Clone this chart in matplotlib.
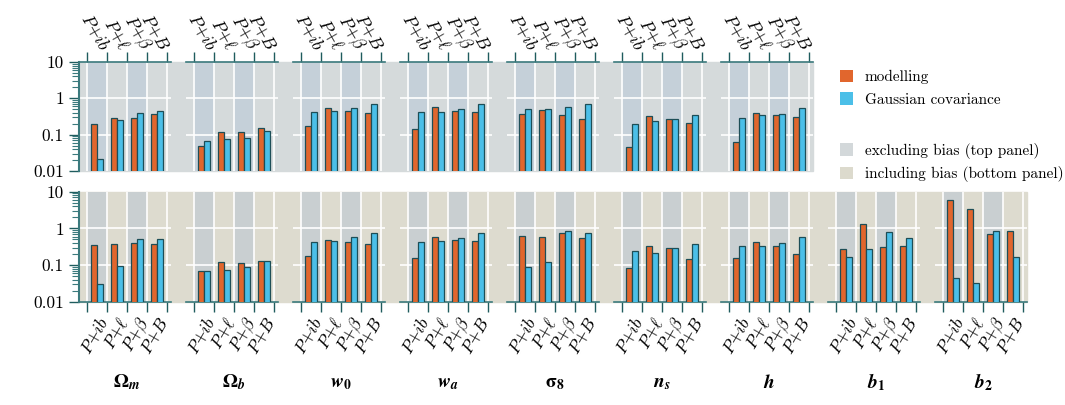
import matplotlib
matplotlib.use("Agg")
import matplotlib.pyplot as plt
from matplotlib.patches import Rectangle, Patch
import numpy as np

plt.rcParams['mathtext.fontset'] = 'cm'

# data
params = [r'$\mathbf{\Omega}_{\mathbfit{m}}$', r'$\mathbf{\Omega}_{\mathbfit{b}}$',
          r'$\mathbfit{w}_{\mathbf{0}}$', r'$\mathbfit{w}_{\mathbfit{a}}$',
          r'$\mathbf{\sigma}_{\mathbf{8}}$', r'$\mathbfit{n}_{\mathbfit{s}}$',
          r'$\mathbfit{h}$', r'$\mathbfit{b}_{\mathbf{1}}$', r'$\mathbfit{b}_{\mathbf{2}}$']
cats = [r'$P{+}ib$', r'$P{+}\ell$', r'$P{+}\beta$', r'$P{+}B$']

top_modelling = [[0.19, 0.29, 0.29, 0.37],
                 [0.049, 0.114, 0.114, 0.151],
                 [0.173, 0.54, 0.44, 0.39],
                 [0.14, 0.59, 0.46, 0.42],
                 [0.37, 0.47, 0.355, 0.264],
                 [0.046, 0.333, 0.264, 0.21],
                 [0.062, 0.394, 0.355, 0.306]]
top_gaussian = [[0.021, 0.256, 0.393, 0.454],
                [0.066, 0.075, 0.081, 0.125],
                [0.421, 0.439, 0.542, 0.698],
                [0.412, 0.421, 0.508, 0.698],
                [0.52, 0.508, 0.565, 0.698],
                [0.192, 0.243, 0.264, 0.34],
                [0.294, 0.34, 0.378, 0.553]]
bottom_modelling = [[0.359, 0.374, 0.406, 0.374],
                    [0.0686, 0.123, 0.111, 0.131],
                    [0.176, 0.481, 0.415, 0.374],
                    [0.158, 0.568, 0.471, 0.442],
                    [0.618, 0.568, 0.746, 0.556],
                    [0.083, 0.323, 0.285, 0.149],
                    [0.158, 0.415, 0.337, 0.2],
                    [0.279, 1.285, 0.31, 0.33],
                    [5.8, 3.3, 0.70, 0.846]]
bottom_gaussian = [[0.0297, 0.094, 0.501, 0.523],
                   [0.0658, 0.0716, 0.090, 0.128],
                   [0.433, 0.442, 0.568, 0.762],
                   [0.424, 0.442, 0.533, 0.762],
                   [0.088, 0.118, 0.864, 0.762],
                   [0.236, 0.217, 0.285, 0.366],
                   [0.323, 0.330, 0.398, 0.581],
                   [0.165, 0.273, 0.778, 0.545],
                   [0.0442, 0.0316, 0.846, 0.169]]

c_mod = '#e1662d'
c_gau = '#4bbfe8'
c_edge = '#1d4e57'
c_spine = '#3b7a7d'
c_tick = '#1f5c5e'
top_bg, top_stripe = '#d5dadb', '#c5d0d9'
bot_bg, bot_stripe = '#dddbcf', '#c9cfd1'

W, H = 1065, 405
fig = plt.figure(figsize=(W / 100, H / 100), dpi=100)

def px(x0, y0, w, h):
    return [x0 / W, 1 - (y0 + h) / H, w / W, h / H]

# row backgrounds behind the panels
fig.patches.append(Rectangle((79 / W, 1 - 171 / H), (813 - 79) / W, 109 / H,
                             transform=fig.transFigure, color=top_bg, zorder=-10))
fig.patches.append(Rectangle((79 / W, 1 - 301.7 / H), (1027 - 79) / W, 110 / H,
                             transform=fig.transFigure, color=bot_bg, zorder=-10))

def panel(rect, modelling, gaussian, top, first, bg, stripe):
    ax = fig.add_axes(rect)
    ax.set_facecolor('none')
    ax.set_yscale('log')
    ax.set_ylim(0.01, 10)
    ax.set_xlim(-0.4, 4.2)
    for c in [0, 2]:
        ax.axvspan(c, c + 1, color=stripe, zorder=0, lw=0)
    for c in range(5):
        ax.axvline(c, color='white', lw=1.2, zorder=1)
    for v in [1, 0.1]:
        ax.axhline(v, color='white', lw=1.2, zorder=1)
    x = np.arange(4)
    ax.bar(x + 0.33, modelling, 0.3, bottom=1e-3, color=c_mod, edgecolor=c_edge, lw=0.9, zorder=3)
    ax.bar(x + 0.67, gaussian, 0.3, bottom=1e-3, color=c_gau, edgecolor=c_edge, lw=0.9, zorder=3)

    for s in ax.spines.values():
        s.set_visible(False)
    side = 'top' if top else 'bottom'
    ax.spines[side].set_visible(True)
    ax.spines[side].set_color(c_spine)
    ax.spines[side].set_linewidth(1.2)

    ax.set_xticks(range(5))
    ax.set_xticklabels([''] * 5)
    ax.set_xticks(x + 0.5, minor=True)
    if top:
        ax.set_xticklabels(cats, minor=True, rotation=-60, ha='right', va='bottom',
                           rotation_mode='anchor', fontsize=12.5)
        pad = 6
    else:
        ax.set_xticklabels(cats, minor=True, rotation=60, ha='right', va='top',
                           rotation_mode='anchor', fontsize=12.5)
        pad = 9
    ax.tick_params(axis='x', which='major', length=7.5, width=1, color=c_tick,
                   top=top, bottom=not top, labeltop=top, labelbottom=not top)
    ax.tick_params(axis='x', which='minor', length=0, pad=pad,
                   top=top, bottom=not top, labeltop=top, labelbottom=not top)

    if first:
        ax.spines['left'].set_visible(True)
        ax.spines['left'].set_color(c_spine)
        ax.spines['left'].set_linewidth(1.5)
        ax.set_yticks([0.01, 0.1, 1, 10])
        ax.set_yticklabels(['0.01', '0.1', '1', '10'], fontfamily='cmr10', fontsize=12.5)
        ax.tick_params(axis='y', which='major', length=7.5, width=1, color=c_tick)
        ax.tick_params(axis='y', which='minor', length=5, width=0.8, color=c_spine)
    else:
        ax.set_yticks([])
        ax.tick_params(axis='y', which='minor', left=False)
    return ax

for i in range(9):
    x0 = 79 + 107 * i
    if i < 7:
        panel(px(x0, 62, 92, 109), top_modelling[i], top_gaussian[i], True, i == 0,
              top_bg, top_stripe)
    ax = panel(px(x0, 191.7, 92, 110), bottom_modelling[i], bottom_gaussian[i], False,
               i == 0, bot_bg, bot_stripe)
    fig.text((x0 + 8 + 40) / W, 1 - 382 / H, params[i], ha='center', va='center',
             fontsize=14, math_fontfamily='stix')

h1 = [Patch(facecolor=c_mod, edgecolor='none', label='modelling'),
      Patch(facecolor=c_gau, edgecolor='none', label='Gaussian covariance')]
h2 = [Patch(facecolor='#d3d8da', edgecolor='none', label='excluding bias (top panel)'),
      Patch(facecolor='#dcdacd', edgecolor='none', label='including bias (bottom panel)')]
leg_kw = dict(loc='upper left', frameon=False, handlelength=0.85, handleheight=0.9,
              handletextpad=0.8, labelspacing=0.5, prop={'family': 'cmr10', 'size': 11})
fig.legend(handles=h1, bbox_to_anchor=(826 / W, 1 - 56 / H), **leg_kw)
fig.legend(handles=h2, bbox_to_anchor=(826 / W, 1 - 129 / H), **leg_kw)

fig.savefig('out.png', dpi=100)
